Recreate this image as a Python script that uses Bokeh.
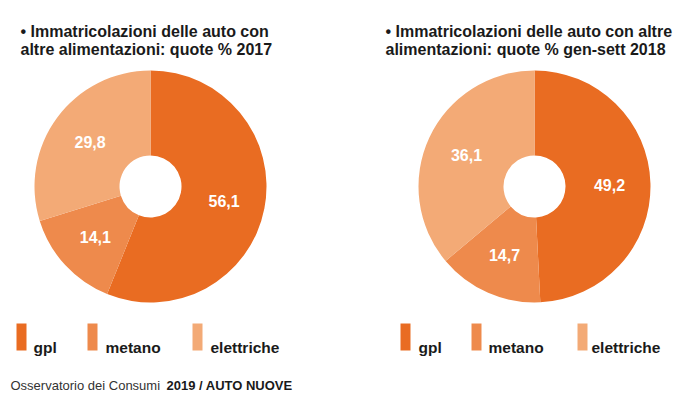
import math
from bokeh.plotting import figure
from bokeh.models import Range1d, ColumnDataSource
from bokeh.core.properties import value
from bokeh.embed import file_html
from bokeh.resources import INLINE

# ---- data ----
categories = ["gpl", "metano", "elettriche"]
values_2017 = [56.1, 14.1, 29.8]
values_2018 = [49.2, 14.7, 36.1]
labels_2017 = ["56,1", "14,1", "29,8"]
labels_2018 = ["49,2", "14,7", "36,1"]
colors = ["#E96C22", "#EE8A4C", "#F3AA76"]
title_2017 = ["\u2022 Immatricolazioni delle auto con", "altre alimentazioni: quote % 2017"]
title_2018 = ["\u2022 Immatricolazioni delle auto con altre", "alimentazioni: quote % gen-sett 2018"]
source_regular = "Osservatorio dei Consumi"
source_bold = "2019 / AUTO NUOVE"

W, H = 694, 396
FONT = "Liberation Sans"

p = figure(width=W, height=H, output_backend="svg", toolbar_location=None,
           x_range=Range1d(0, W), y_range=Range1d(0, H), min_border=0,
           outline_line_color=None, background_fill_color="white",
           border_fill_color="white")
p.axis.visible = False
p.grid.visible = False


def px(x):
    return x


def py(y):
    return H - y


R_OUT, R_IN, R_LAB = 116, 31, 75


def donut(cx, cy, vals, labs):
    total = sum(vals)
    starts, ends, lx, ly = [], [], [], []
    cum = 0.0
    for v in vals:
        a0 = math.pi / 2 - 2 * math.pi * (cum + v) / total
        a1 = math.pi / 2 - 2 * math.pi * cum / total
        starts.append(a0)
        ends.append(a1)
        mid = (a0 + a1) / 2
        lx.append(cx + R_LAB * math.cos(mid))
        ly.append(cy + R_LAB * math.sin(mid))
        cum += v
    src = ColumnDataSource(dict(x=[cx] * len(vals), y=[cy] * len(vals),
                                start=starts, end=ends, color=colors,
                                lx=lx, ly=ly, lab=labs))
    p.annular_wedge(x="x", y="y", inner_radius=R_IN, outer_radius=R_OUT,
                    start_angle="start", end_angle="end", direction="anticlock",
                    fill_color="color", line_color=None, source=src)
    p.text(x="lx", y="ly", text="lab", source=src, text_color="white",
           text_font=value(FONT), text_font_style="bold", text_font_size="16px",
           text_align="center", text_baseline="middle")


donut(px(150), py(186), values_2017, labels_2017)
donut(px(534), py(186), values_2018, labels_2018)

# titles
for tx, lines in ((px(20), title_2017), (px(385), title_2018)):
    p.text(x=[tx, tx], y=[py(31), py(48.5)], text=lines,
           text_font=value(FONT), text_font_style="bold", text_font_size="16px",
           text_color="#1a1a1a", text_baseline="alphabetic", text_align="left")

# legends
legend_sets = [
    ([16, 87, 192], [33, 105, 210]),
    ([400, 471, 577], [418, 488, 591]),
]
for rects, texts in legend_sets:
    p.quad(left=[px(r) for r in rects], right=[px(r + 10) for r in rects],
           bottom=[py(350)] * 3, top=[py(323)] * 3, fill_color=colors, line_color=None)
    p.text(x=[px(t) for t in texts], y=[py(347)] * 3, text=categories,
           text_font=value(FONT), text_font_style="bold", text_font_size="15.5px",
           text_color="#1a1a1a", text_baseline="alphabetic", text_align="left")

# source line
p.text(x=[px(10)], y=[py(385)], text=[source_regular], text_font=value(FONT),
       text_font_size="13px", text_color="#333333", text_baseline="alphabetic")
p.text(x=[px(166)], y=[py(385)], text=[source_bold], text_font=value(FONT),
       text_font_style="bold", text_font_size="13px", text_color="#1a1a1a",
       text_baseline="alphabetic")

open("out.html", "w").write(file_html(p, INLINE))
